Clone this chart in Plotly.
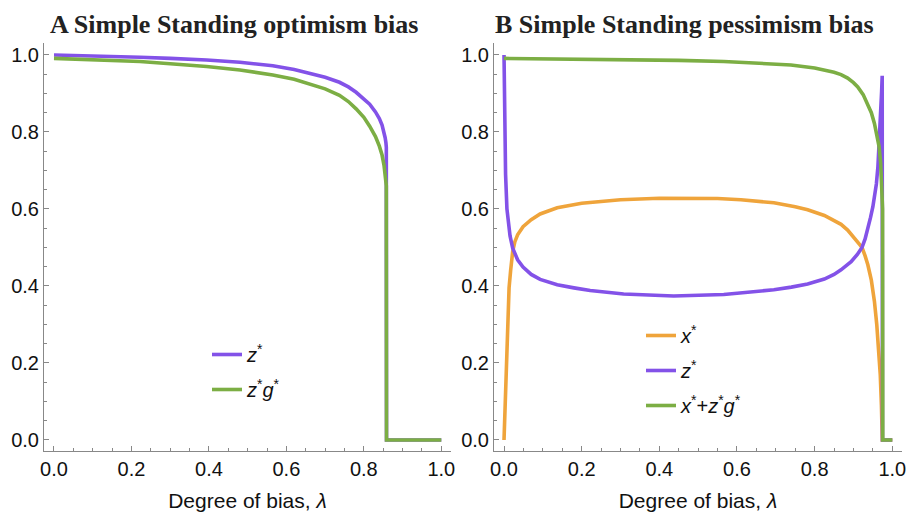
import plotly.graph_objects as go

# ---------------- data ----------------
# Panel A: Simple Standing optimism bias
lamA_z = [0, 0.1, 0.222, 0.3, 0.394, 0.48, 0.565, 0.62, 0.651, 0.70, 0.737, 0.76, 0.78,
          0.80, 0.815, 0.83, 0.84, 0.847, 0.852, 0.855, 0.857, 0.858, 0.8585, 0.8587, 1.0]
zA = [1.0, 0.998, 0.994, 0.991, 0.987, 0.981, 0.972, 0.962, 0.955, 0.942, 0.929, 0.917, 0.903,
      0.886, 0.872, 0.852, 0.835, 0.818, 0.80, 0.785, 0.772, 0.76, 0.0, 0.0, 0.0]

lamA_g = [0, 0.1, 0.222, 0.3, 0.394, 0.48, 0.565, 0.62, 0.651, 0.70, 0.737, 0.76, 0.78,
          0.80, 0.815, 0.83, 0.84, 0.847, 0.852, 0.856, 0.858, 0.8585, 0.8587, 1.0]
zgA = [0.991, 0.988, 0.983, 0.977, 0.970, 0.961, 0.948, 0.937, 0.928, 0.912, 0.895, 0.879, 0.860,
       0.838, 0.815, 0.788, 0.763, 0.740, 0.714, 0.686, 0.66, 0.0, 0.0, 0.0]

# Panel B: Simple Standing pessimism bias
lamB_x = [0, 0.002, 0.0045, 0.007, 0.0095, 0.013, 0.017, 0.0224, 0.028, 0.035, 0.049, 0.07,
          0.093, 0.137, 0.2, 0.3, 0.4, 0.48, 0.55, 0.61, 0.695, 0.75, 0.782, 0.825, 0.85,
          0.868, 0.885, 0.9, 0.911, 0.922, 0.93, 0.937, 0.946, 0.954, 0.96, 0.965, 0.969,
          0.972, 0.974, 0.9742, 1.0]
xB = [0, 0.07, 0.156, 0.25, 0.33, 0.395, 0.44, 0.49, 0.515, 0.533, 0.554, 0.572,
      0.587, 0.603, 0.615, 0.624, 0.628, 0.628, 0.627, 0.624, 0.616, 0.606, 0.598, 0.583, 0.571,
      0.560, 0.545, 0.528, 0.515, 0.50, 0.478, 0.455, 0.415, 0.36, 0.30, 0.24, 0.17,
      0.09, 0.0, 0.0, 0.0]

lamB_z = [0, 0.001, 0.002, 0.004, 0.0075, 0.011, 0.0155, 0.0224, 0.028, 0.035, 0.049, 0.07,
          0.093, 0.137, 0.18, 0.222, 0.308, 0.437, 0.566, 0.65, 0.695, 0.74, 0.782, 0.825,
          0.85, 0.868, 0.894, 0.91, 0.922, 0.93, 0.937, 0.944, 0.950, 0.955, 0.959, 0.963,
          0.966, 0.969, 0.971, 0.9725, 0.974, 0.9745, 0.9747, 1.0]
zB = [1.0, 0.90, 0.79, 0.69, 0.60, 0.56, 0.53, 0.498, 0.482, 0.468, 0.449, 0.43,
      0.417, 0.403, 0.395, 0.388, 0.379, 0.374, 0.378, 0.385, 0.39, 0.397, 0.405, 0.418,
      0.43, 0.442, 0.463, 0.482, 0.50, 0.522, 0.548, 0.578, 0.606, 0.635, 0.665, 0.71,
      0.762, 0.82, 0.866, 0.905, 0.946, 0.0, 0.0, 0.0]

lamB_g = [0, 0.1, 0.3, 0.45, 0.566, 0.65, 0.739, 0.8, 0.825, 0.85, 0.868, 0.885, 0.9,
          0.911, 0.925, 0.937, 0.946, 0.954, 0.96, 0.966, 0.970, 0.973, 0.975, 0.9755,
          0.9757, 1.0]
gB = [0.991, 0.990, 0.989, 0.986, 0.983, 0.979, 0.974, 0.966, 0.961, 0.955, 0.949, 0.94, 0.928,
      0.917, 0.897, 0.873, 0.85, 0.822, 0.795, 0.762, 0.72, 0.665, 0.60, 0.0,
      0.0, 0.0]

tick_vals = [0.0, 0.2, 0.4, 0.6, 0.8, 1.0]
tick_text = ["0.0", "0.2", "0.4", "0.6", "0.8", "1.0"]

titleA = "A Simple Standing optimism bias"
titleB = "B Simple Standing pessimism bias"
xlabel = "Degree of bias, <i>λ</i>"

PURPLE = "#8352E8"
GREEN = "#7CAE44"
ORANGE = "#EFA43B"
LW = 3.6

fig = go.Figure()

fig.add_trace(go.Scatter(x=lamA_z, y=zA, mode="lines", name="<i>z</i><sup>*</sup>",
                         line=dict(color=PURPLE, width=LW), xaxis="x", yaxis="y",
                         legend="legend", legendgroup="a1"))
fig.add_trace(go.Scatter(x=lamA_g, y=zgA, mode="lines",
                         name="<i>z</i><sup>*</sup><i>g</i><sup>*</sup>",
                         line=dict(color=GREEN, width=LW), xaxis="x", yaxis="y",
                         legend="legend", legendgroup="a2"))

fig.add_trace(go.Scatter(x=lamB_x, y=xB, mode="lines", name="<i>x</i><sup>*</sup>",
                         line=dict(color=ORANGE, width=LW), xaxis="x2", yaxis="y2",
                         legend="legend2", legendgroup="b1"))
fig.add_trace(go.Scatter(x=lamB_z, y=zB, mode="lines", name="<i>z</i><sup>*</sup>",
                         line=dict(color=PURPLE, width=LW), xaxis="x2", yaxis="y2",
                         legend="legend2", legendgroup="b2"))
fig.add_trace(go.Scatter(x=lamB_g, y=gB, mode="lines",
                         name="<i>x</i><sup>*</sup>+<i>z</i><sup>*</sup><i>g</i><sup>*</sup>",
                         line=dict(color=GREEN, width=LW), xaxis="x2", yaxis="y2",
                         legend="legend2", legendgroup="b3"))

W, H = 912, 515
AX_COLOR = "#888888"
TICK_FONT = dict(family="Liberation Sans, Arial, sans-serif", size=20, color="#111")
LABEL_FONT = dict(family="Liberation Sans, Arial, sans-serif", size=21, color="#111")


def xaxis_cfg(x0, x1, anchor):
    return dict(domain=[x0 / W, x1 / W], range=[-0.0258, 1.025], anchor=anchor,
                showgrid=False, zeroline=False, showline=True, linecolor=AX_COLOR,
                linewidth=1, ticks="inside", ticklen=5, tickcolor=AX_COLOR,
                tickvals=tick_vals, ticktext=tick_text, tickfont=TICK_FONT,
                minor=dict(dtick=0.05, tick0=0, ticks="inside", ticklen=3,
                           tickcolor=AX_COLOR, showgrid=False),
                title=dict(text=xlabel, font=LABEL_FONT, standoff=14),
                automargin=False, fixedrange=True)


def yaxis_cfg(anchor):
    return dict(domain=[(H - 451) / H, (H - 43) / H], range=[-0.0286, 1.031],
                anchor=anchor, showgrid=False, zeroline=False, showline=True,
                linecolor=AX_COLOR, linewidth=1, ticks="inside", ticklen=5,
                tickcolor=AX_COLOR, tickvals=tick_vals, ticktext=tick_text,
                tickfont=TICK_FONT,
                minor=dict(dtick=0.05, tick0=0, ticks="inside", ticklen=3,
                           tickcolor=AX_COLOR, showgrid=False),
                automargin=False, fixedrange=True)


LEG_FONT = dict(family="Liberation Sans, Arial, sans-serif", size=20, color="#111")
TITLE_FONT = dict(family="Liberation Serif, serif", size=26, color="#222")

fig.update_layout(
    width=W, height=H,
    margin=dict(l=0, r=0, t=0, b=0),
    paper_bgcolor="white", plot_bgcolor="white",
    xaxis=xaxis_cfg(44, 451, "y"),
    yaxis=yaxis_cfg("x"),
    xaxis2=xaxis_cfg(494, 902, "y2"),
    yaxis2=yaxis_cfg("x2"),
    legend=dict(x=207 / W, y=(H - 335) / H, xanchor="left", yanchor="top",
                bgcolor="rgba(0,0,0,0)", font=LEG_FONT, tracegroupgap=6,
                itemwidth=30),
    legend2=dict(x=641 / W, y=(H - 316) / H, xanchor="left", yanchor="top",
                 bgcolor="rgba(0,0,0,0)", font=LEG_FONT, tracegroupgap=6,
                 itemwidth=30),
    annotations=[
        dict(text="<b>" + titleA + "</b>", x=234 / W, y=(H - 24) / H, xref="paper",
             yref="paper", xanchor="center", yanchor="middle", showarrow=False,
             font=TITLE_FONT),
        dict(text="<b>" + titleB + "</b>", x=684 / W, y=(H - 24) / H, xref="paper",
             yref="paper", xanchor="center", yanchor="middle", showarrow=False,
             font=TITLE_FONT),
    ],
)

fig.write_html("out.html")
